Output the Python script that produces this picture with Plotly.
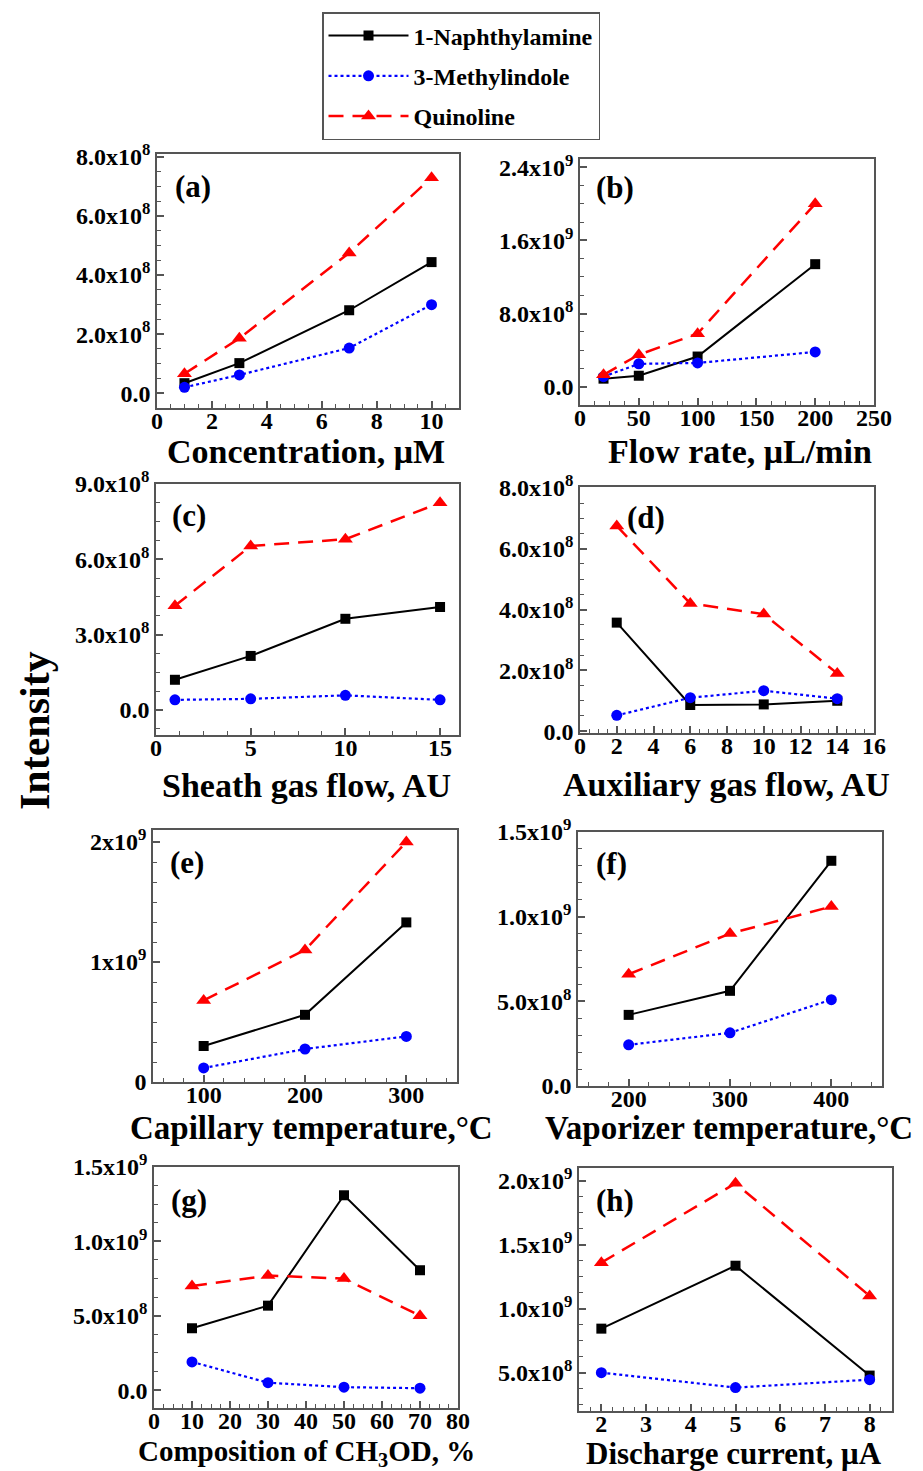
import plotly.graph_objects as go

W, H = 923, 1471
OFF = 8  # page body margin offset of the figure inside the browser window

# ---------------- data ----------------
series_names = ["1-Naphthylamine", "3-Methylindole", "Quinoline"]

a_x = [1, 3, 7, 10]
a_naph = [0.34e8, 1.02e8, 2.81e8, 4.44e8]
a_meth = [0.20e8, 0.62e8, 1.53e8, 3.00e8]
a_quin = [0.66e8, 1.86e8, 4.75e8, 7.30e8]

b_x = [20, 50, 100, 200]
b_naph = [0.88e8, 1.2e8, 3.3e8, 13.4e8]
b_meth = [1.1e8, 2.5e8, 2.6e8, 3.8e8]
b_quin = [1.3e8, 3.5e8, 5.8e8, 20.0e8]

c_x = [1, 5, 10, 15]
c_naph = [1.2e8, 2.15e8, 3.63e8, 4.1e8]
c_meth = [0.40e8, 0.44e8, 0.58e8, 0.40e8]
c_quin = [4.15e8, 6.53e8, 6.8e8, 8.25e8]

d_x = [2, 6, 10, 14]
d_naph = [3.57e8, 0.86e8, 0.88e8, 1.0e8]
d_meth = [0.52e8, 1.1e8, 1.33e8, 1.07e8]
d_quin = [6.75e8, 4.2e8, 3.85e8, 1.9e8]

e_x = [100, 200, 300]
e_naph = [0.30e9, 0.56e9, 1.33e9]
e_meth = [0.117e9, 0.275e9, 0.38e9]
e_quin = [0.68e9, 1.10e9, 2.00e9]

f_x = [200, 300, 400]
f_naph = [4.2e8, 5.62e8, 13.3e8]
f_meth = [2.43e8, 3.14e8, 5.1e8]
f_quin = [6.6e8, 9.0e8, 10.6e8]

g_x = [10, 30, 50, 70]
g_naph = [4.16e8, 5.68e8, 13.1e8, 8.06e8]
g_meth = [1.9e8, 0.5e8, 0.2e8, 0.13e8]
g_quin = [7.0e8, 7.7e8, 7.5e8, 5.0e8]

h_x = [2, 5, 8]
h_naph = [8.44e8, 13.36e8, 4.77e8]
h_meth = [5.0e8, 3.83e8, 4.45e8]
h_quin = [13.6e8, 19.8e8, 11.0e8]

# tick labels
a_ytv = [0, 2e8, 4e8, 6e8, 8e8]
a_ytt = ["0.0", "2.0x10<sup>8</sup>", "4.0x10<sup>8</sup>", "6.0x10<sup>8</sup>", "8.0x10<sup>8</sup>"]
b_ytv = [0, 8e8, 1.6e9, 2.4e9]
b_ytt = ["0.0", "8.0x10<sup>8</sup>", "1.6x10<sup>9</sup>", "2.4x10<sup>9</sup>"]
c_ytv = [0, 3e8, 6e8, 9e8]
c_ytt = ["0.0", "3.0x10<sup>8</sup>", "6.0x10<sup>8</sup>", "9.0x10<sup>8</sup>"]
d_ytv = [0, 2e8, 4e8, 6e8, 8e8]
d_ytt = ["0.0", "2.0x10<sup>8</sup>", "4.0x10<sup>8</sup>", "6.0x10<sup>8</sup>", "8.0x10<sup>8</sup>"]
e_ytv = [0, 1e9, 2e9]
e_ytt = ["0", "1x10<sup>9</sup>", "2x10<sup>9</sup>"]
f_ytv = [0, 5e8, 1e9, 1.5e9]
f_ytt = ["0.0", "5.0x10<sup>8</sup>", "1.0x10<sup>9</sup>", "1.5x10<sup>9</sup>"]
g_ytv = [0, 5e8, 1e9, 1.5e9]
g_ytt = ["0.0", "5.0x10<sup>8</sup>", "1.0x10<sup>9</sup>", "1.5x10<sup>9</sup>"]
h_ytv = [5e8, 1e9, 1.5e9, 2e9]
h_ytt = ["5.0x10<sup>8</sup>", "1.0x10<sup>9</sup>", "1.5x10<sup>9</sup>", "2.0x10<sup>9</sup>"]

x_titles = ["Concentration, μM", "Flow rate, μL/min", "Sheath gas flow, AU",
            "Auxiliary gas flow, AU", "Capillary temperature,°C",
            "Vaporizer temperature,°C", "Composition of CH<sub>3</sub>OD, %",
            "Discharge current, μA"]
panel_labels = ["(a)", "(b)", "(c)", "(d)", "(e)", "(f)", "(g)", "(h)"]
y_title = "Intensity"

# ---------------- layout geometry (window pixels) ----------------
panels = [
    dict(x=a_x, ys=[a_naph, a_meth, a_quin], box=(157, 459, 154, 408), xr=[0, 11], xd=2, xm=0.5,
         yr=[-0.5e8, 8.1e8], ytv=a_ytv, ytt=a_ytt, ym=0.5e8, lab=(193, 186), tt=(306, 451), ts=34),
    dict(x=b_x, ys=[b_naph, b_meth, b_quin], box=(580, 874, 159, 405), xr=[0, 250], xd=50, xm=12.5,
         yr=[-2e8, 2.49e9], ytv=b_ytv, ytt=b_ytt, ym=2e8, lab=(615, 187), tt=(740, 451), ts=34),
    dict(x=c_x, ys=[c_naph, c_meth, c_quin], box=(156, 459, 484, 735), xr=[0, 16], xd=5, xm=1.25,
         yr=[-1e8, 9e8], ytv=c_ytv, ytt=c_ytt, ym=0.75e8, lab=(189, 515), tt=(306, 786), ts=34),
    dict(x=d_x, ys=[d_naph, d_meth, d_quin], box=(580, 874, 487, 733), xr=[0, 16], xd=2, xm=0.5,
         yr=[-0.06e8, 8.03e8], ytv=d_ytv, ytt=d_ytt, ym=0.5e8, lab=(646, 517), tt=(726, 784), ts=34),
    dict(x=e_x, ys=[e_naph, e_meth, e_quin], box=(153, 457, 830, 1082), xr=[50, 350], xd=100, xm=20,
         yr=[0, 2.1e9], ytv=e_ytv, ytt=e_ytt, ym=1e9 / 6, lab=(187, 862), tt=(311, 1128), ts=33),
    dict(x=f_x, ys=[f_naph, f_meth, f_quin], box=(578, 882, 832, 1086), xr=[150, 450], xd=100, xm=20,
         yr=[0, 1.5e9], ytv=f_ytv, ytt=f_ytt, ym=1e8, lab=(611, 863), tt=(729, 1128), ts=33),
    dict(x=g_x, ys=[g_naph, g_meth, g_quin], box=(154, 458, 1167, 1408), xr=[0, 80], xd=10, xm=2.5,
         yr=[-1.2e8, 1.5e9], ytv=g_ytv, ytt=g_ytt, ym=1.25e8, lab=(189, 1200), tt=(306, 1453), ts=29),
    dict(x=h_x, ys=[h_naph, h_meth, h_quin], box=(579, 892, 1168, 1411), xr=[1.5, 8.5], xd=1, xm=0.25,
         yr=[2e8, 2.1e9], ytv=h_ytv, ytt=h_ytt, ym=1.25e8, lab=(615, 1200), tt=(734, 1453), ts=31),
]


def px_x(v):
    return (v - OFF) / W


def px_y(v):
    return 1 - (v - OFF) / H


styles = [
    dict(line=dict(color="#000000", width=2, dash="solid"),
         marker=dict(symbol="square", size=10, color="#000000")),
    dict(line=dict(color="#0000ff", width=2.2, dash="dot"),
         marker=dict(symbol="circle", size=11, color="#0000ff")),
    dict(line=dict(color="#ff0000", width=2.5, dash="15px,9px"),
         marker=dict(symbol="triangle-up", size=13, color="#ff0000")),
]

FONT = "Liberation Serif, Times New Roman, serif"
AX = "#555555"

fig = go.Figure()
annotations = []
layout = {}

for i, p in enumerate(panels):
    n = i + 1
    xa = "x" if n == 1 else f"x{n}"
    ya = "y" if n == 1 else f"y{n}"
    for k in range(3):
        fig.add_trace(go.Scatter(
            x=p["x"], y=p["ys"][k], mode="lines+markers", name=series_names[k],
            xaxis=xa, yaxis=ya, legendgroup=series_names[k], showlegend=(n == 1),
            line=styles[k]["line"], marker=styles[k]["marker"]))
    x0, x1, y0, y1 = p["box"]
    common = dict(showline=True, linecolor=AX, linewidth=1.5, mirror=True,
                  showgrid=False, zeroline=False, ticks="inside", ticklen=7,
                  tickwidth=1.5, tickcolor=AX, automargin=False,
                  tickfont=dict(family=FONT, size=24, color="#000", weight="bold"))
    layout["xaxis" if n == 1 else f"xaxis{n}"] = dict(
        common, domain=[px_x(x0), px_x(x1)], anchor=ya, range=p["xr"],
        tickmode="linear", tick0=0, dtick=p["xd"], ticklabelstandoff=-10,
        minor=dict(ticks="inside", ticklen=4, tickcolor=AX, tickwidth=1.2,
                   tick0=0, dtick=p["xm"]))
    layout["yaxis" if n == 1 else f"yaxis{n}"] = dict(
        common, domain=[px_y(y1), px_y(y0)], anchor=xa, range=p["yr"],
        tickmode="array", tickvals=p["ytv"], ticktext=p["ytt"],
        minor=dict(ticks="inside", ticklen=4, tickcolor=AX, tickwidth=1.2,
                   tick0=0, dtick=p["ym"]))
    annotations.append(dict(
        text=panel_labels[i], x=px_x(p["lab"][0]), y=px_y(p["lab"][1]),
        xref="paper", yref="paper", xanchor="center", yanchor="middle",
        showarrow=False, font=dict(family=FONT, size=31, color="#000", weight="bold")))
    annotations.append(dict(
        text=x_titles[i], x=px_x(p["tt"][0]), y=px_y(p["tt"][1]),
        xref="paper", yref="paper", xanchor="center", yanchor="middle",
        showarrow=False,
        font=dict(family=FONT, size=p["ts"], color="#000", weight="bold")))

annotations.append(dict(
    text=y_title, x=px_x(35), y=px_y(731), xref="paper", yref="paper",
    xanchor="center", yanchor="middle", textangle=-90, showarrow=False,
    font=dict(family=FONT, size=42, color="#000", weight="bold")))

fig.update_layout(
    **layout,
    width=W, height=H,
    margin=dict(l=0, r=0, t=0, b=0, pad=0, autoexpand=False),
    paper_bgcolor="white", plot_bgcolor="white",
    annotations=annotations,
    showlegend=True,
    legend=dict(x=px_x(322), y=px_y(12), xanchor="left", yanchor="top",
                bordercolor=AX, borderwidth=1.5, bgcolor="white",
                tracegroupgap=6, itemwidth=80,
                font=dict(family=FONT, size=24, color="#000", weight="bold")),
)

fig.write_html("out.html")
